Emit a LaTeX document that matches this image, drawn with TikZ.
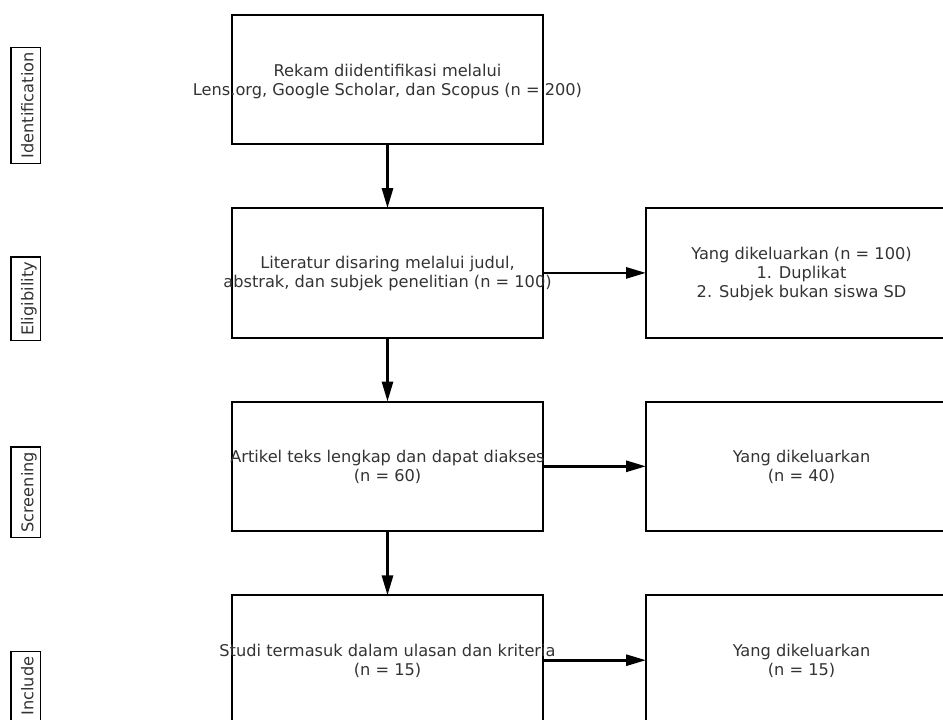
\documentclass[tikz,border=0pt]{standalone}
\usepackage{fontspec}
\setmainfont{DejaVu Sans}
\usetikzlibrary{arrows.meta}
\begin{document}
\begin{tikzpicture}[x=1bp,y=-1bp,
  box/.style={draw=black, line width=2bp, minimum width=311bp, minimum height=129.5bp, inner sep=0pt, outer sep=0pt},
  txt/.style={text=black!80, font=\fontsize{16.2bp}{19bp}\selectfont, align=center, inner sep=0pt},
  arr/.style={draw=black, line width=2.8bp, -{Triangle[length=20bp,width=11bp]}},
  stage/.style={draw=black, line width=1.2bp, rotate=90, text=black!80, font=\fontsize{16.2bp}{19bp}\selectfont, inner xsep=5bp, inner ysep=0pt, text height=22.3bp, text depth=7.4bp}]
\useasboundingbox (0,0) rectangle (943,720);
\clip (0,0) rectangle (943,720);
% main boxes
\node[box] (b1) at (387.5,79.3) {};
\node[box] (b2) at (387.5,272.9) {};
\node[box] (b3) at (387.5,466.3) {};
\node[box] (b4) at (387.5,660.2) {};
% right boxes
\node[box] (r2) at (801.5,272.9) {};
\node[box] (r3) at (801.5,466.3) {};
\node[box] (r4) at (801.5,660.2) {};
% texts
\node[txt] (t1) at ([yshift=-2bp]b1.center) {Rekam diidentifikasi melalui\\Lens.org, Google Scholar, dan Scopus (n = 200)};
\node[txt] (t2) at ([yshift=-1bp]b2.center) {Literatur disaring melalui judul,\\abstrak, dan subjek penelitian (n = 100)};
\node[txt] (t3) at ([yshift=-1bp]b3.center) {Artikel teks lengkap dan dapat diakses\\(n = 60)};
\node[txt] (t4) at ([yshift=-1bp]b4.center) {Studi termasuk dalam ulasan dan kriteria\\(n = 15)};
\node[txt] (u2) at ([yshift=-1bp]r2.center) {Yang dikeluarkan (n = 100)\\1. Duplikat\\2. Subjek bukan siswa SD};
\node[txt] (u3) at ([yshift=-1bp]r3.center) {Yang dikeluarkan\\(n = 40)};
\node[txt] (u4) at ([yshift=-1bp]r4.center) {Yang dikeluarkan\\(n = 15)};
% stage labels
\node[stage] (s1) at (25.8,105.3) {Identification};
\node[stage] (s2) at (25.8,298.9) {Eligibility};
\node[stage] (s3) at (25.8,492.3) {Screening};
\node[stage] (s4) at (25.8,686.2) {Include};
% arrows
\draw[arr] (b1) -- (b2);
\draw[arr] (b2) -- (b3);
\draw[arr] (b3) -- (b4);
\draw[arr] (b2) -- (r2);
\draw[arr] (b3) -- (r3);
\draw[arr] (b4) -- (r4);
\end{tikzpicture}
\end{document}
